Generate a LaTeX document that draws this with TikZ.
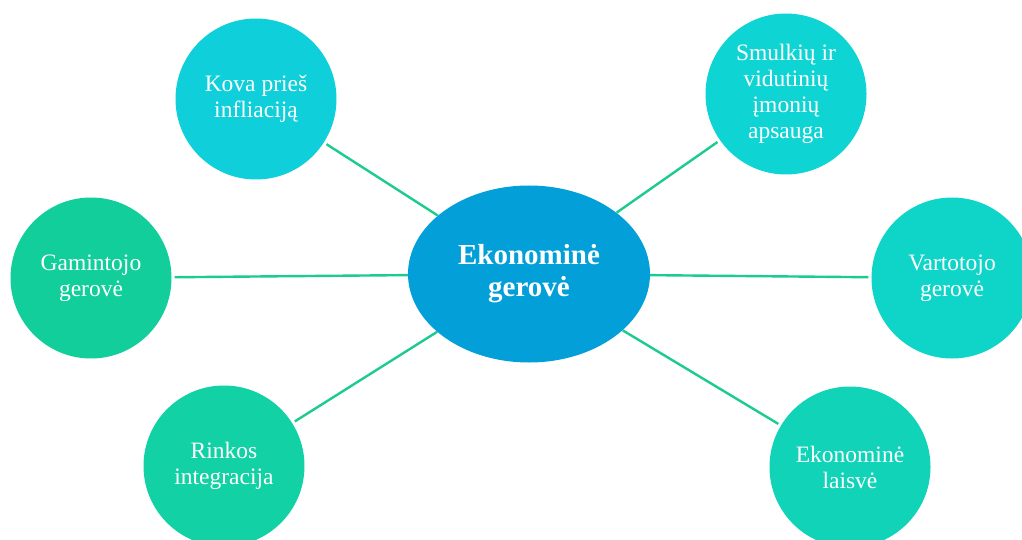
\documentclass[tikz,border=0pt]{standalone}
\usepackage{fontspec}
\setmainfont{Liberation Serif}
\usetikzlibrary{shapes.geometric}
\definecolor{cmain}{HTML}{039FD9}
\definecolor{ckova}{HTML}{0ECFDA}
\definecolor{csmul}{HTML}{0FD4D4}
\definecolor{cvart}{HTML}{0ED5C7}
\definecolor{claisv}{HTML}{10D3B8}
\definecolor{crink}{HTML}{12D1A5}
\definecolor{cgam}{HTML}{12CE9B}
\definecolor{cline}{HTML}{1CCB8E}
\tikzset{
  bubble/.style={circle, minimum size=161pt, inner sep=0pt, text=white, align=center,
    font=\fontsize{23.5}{26}\selectfont},
  hub/.style={ellipse, fill=cmain, minimum width=242pt, minimum height=177pt, inner sep=0pt,
    text=white, align=center, font=\fontsize{29}{32}\selectfont\bfseries},
  link/.style={draw=cline, line width=2.4pt, shorten <=3pt}
}
\begin{document}
\begin{tikzpicture}[x=1pt,y=-1pt]
\useasboundingbox (0,0) rectangle (1022,540);
\node[hub] (c) at (529,274) {Ekonominė\\gerovė};
\node[bubble, fill=ckova] (kova) at (256,99) {Kova prieš\\infliaciją};
\node[bubble, fill=csmul] (smul) at (786,94) {Smulkių ir\\vidutinių\\įmonių\\apsauga};
\node[bubble, fill=cgam] (gam) at (91,278) {Gamintojo\\gerovė};
\node[bubble, fill=cvart] (vart) at (952,278) {Vartotojo\\gerovė};
\node[bubble, fill=crink] (rink) at (224,466) {Rinkos\\integracija};
\node[bubble, fill=claisv] (laisv) at (850,467) {Ekonominė\\laisvė};
\draw[link] (kova) -- (c);
\draw[link] (smul) -- (c);
\draw[link] (gam) -- (c);
\draw[link] (vart) -- (c);
\draw[link] (rink) -- (c);
\draw[link] (laisv) -- (c);
\end{tikzpicture}
\end{document}
